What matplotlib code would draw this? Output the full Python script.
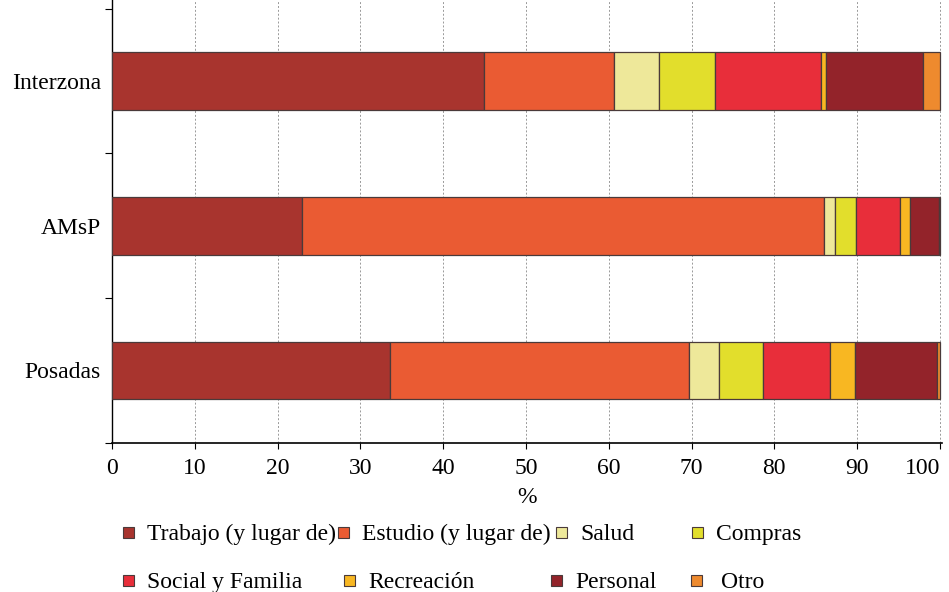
import numpy as np
import matplotlib
matplotlib.use("Agg")
from matplotlib import pyplot as plt
from matplotlib.patches import Rectangle

# data (percent of trips by purpose), bottom to top
zones = ["Posadas", "AMsP", "Interzona"]
purposes = ["Trabajo (y lugar de)", "Estudio (y lugar de)", "Salud", "Compras",
            "Social y Familia", "Recreación", "Personal", "Otro"]
trabajo = [33.6, 22.9, 44.9]
estudio = [36.1, 63.1, 15.7]
salud = [3.6, 1.3, 5.5]
compras = [5.3, 2.6, 6.7]
social = [8.1, 5.3, 12.9]
recreacion = [3.1, 1.2, 0.6]
personal = [9.8, 3.5, 11.7]
otro = [0.4, 0.1, 2.0]
series = [trabajo, estudio, salud, compras, social, recreacion, personal, otro]
x_ticks = list(range(0, 101, 10))

colors = ["#A8342E", "#EA5B33", "#EEE89A", "#E2DE2C",
          "#E82E3A", "#F8B722", "#93232A", "#EE8A2E"]

plt.rcParams['font.family'] = ['Liberation Serif', 'DejaVu Serif']
FS = 17

fig = plt.figure(figsize=(9.49, 5.92), dpi=100)
ax = fig.add_axes([0.118, 0.252, 0.875, 0.748])

y = np.arange(len(zones))
left = np.zeros(len(zones))
for vals, col in zip(series, colors):
    ax.barh(y, vals, left=left, height=0.4, color=col,
            edgecolor="#4a3a3a", linewidth=0.9, zorder=3)
    left += np.array(vals)

ax.set_xlim(0, 100.3)
ax.set_ylim(-0.5, 2.56)
ax.set_xticks(x_ticks)
ax.set_xticklabels([str(t) for t in x_ticks], fontsize=FS)
# last label squeezed in against the edge, as in the original
ax.get_xticklabels()[-1].set_horizontalalignment("right")
ax.set_yticks(y)
ax.set_yticklabels(zones, fontsize=FS)
ax.set_yticks([-0.5, 0.5, 1.5, 2.5], minor=True)
ax.tick_params(axis="y", which="major", length=0, pad=8)
ax.tick_params(axis="y", which="minor", length=5, width=0.8)
ax.tick_params(axis="x", length=4, width=0.8, pad=7)
ax.set_xlabel("%", fontsize=FS, labelpad=6)

ax.xaxis.grid(True, linestyle=(0, (2, 2)), color="#999999", linewidth=0.7, zorder=0)
for s in ["top", "right"]:
    ax.spines[s].set_visible(False)
ax.spines["left"].set_linewidth(1.0)
ax.spines["bottom"].set_linewidth(1.2)

# legend laid out as in the original, two rows of four (pixel centres of markers)
leg_x = [128, 343, 561, 697, 128, 349, 556, 696]
leg_y = [532, 532, 532, 532, 580, 580, 580, 580]
text_gap = [19, 19, 19, 19, 19, 19, 19, 25]
W, H = 949.0, 592.0
for i, (name, col) in enumerate(zip(purposes, colors)):
    px, py = leg_x[i], leg_y[i]
    fig.add_artist(Rectangle(((px - 5.5) / W, 1 - (py + 5.5) / H), 11 / W, 11 / H,
                             transform=fig.transFigure, facecolor=col,
                             edgecolor="#4a3a3a", linewidth=0.8))
    fig.text((px + text_gap[i]) / W, 1 - py / H, name, fontsize=FS,
             va="center_baseline", ha="left")

fig.savefig("out.png", dpi=100)
